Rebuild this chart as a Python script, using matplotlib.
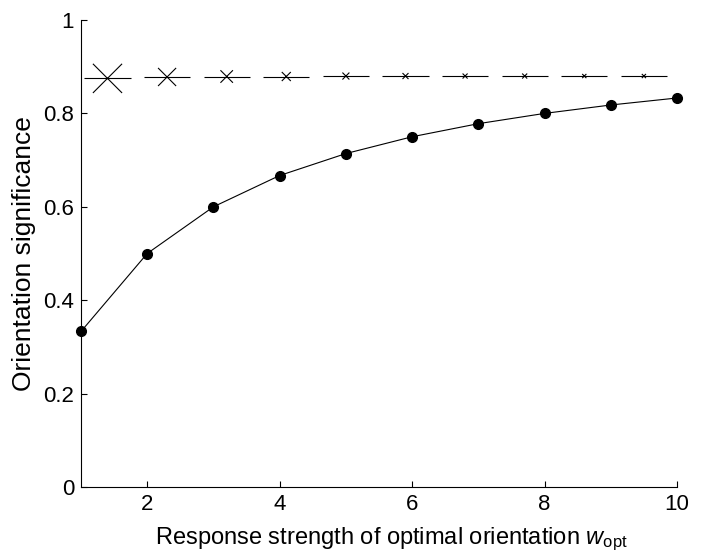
import numpy as np
import matplotlib
matplotlib.use('Agg')
import matplotlib.pyplot as plt

# Datos
w_opt = [1, 2, 3, 4, 5, 6, 7, 8, 9, 10]
significance = [0.333, 0.5, 0.6, 0.667, 0.714, 0.75, 0.778, 0.8, 0.818, 0.833]

cross_x = [1.4, 2.3, 3.2, 4.1, 5.0, 5.9, 6.8, 7.7, 8.6, 9.5]
cross_y = [0.875, 0.878, 0.879, 0.879, 0.88, 0.88, 0.88, 0.88, 0.88, 0.88]
cross_size = [21, 13, 9, 6.5, 5, 4.3, 3.6, 3.6, 3, 3]

x_ticks = [2, 4, 6, 8, 10]
y_ticks = [0, 0.2, 0.4, 0.6, 0.8, 1]
y_tick_labels = ['0', '0.2', '0.4', '0.6', '0.8', '1']

plt.rcParams['font.family'] = ['Liberation Sans', 'DejaVu Sans']
plt.rcParams['mathtext.fontset'] = 'custom'
plt.rcParams['mathtext.it'] = 'Liberation Sans:italic'
plt.rcParams['mathtext.rm'] = 'Liberation Sans'

fig = plt.figure(figsize=(7.01, 5.52), dpi=100)
ax = fig.add_axes([81 / 701, 1 - 487 / 552, 596 / 701, 467 / 552])

# Linea discontinua: un trazo centrado en cada cruz
half = 0.35
cx = np.array(cross_x)
ax.hlines(cross_y, cx - half, cx + half, color='black', linewidth=0.8)
ax.scatter(cross_x, cross_y, s=np.array(cross_size) ** 2, marker='x',
           color='black', linewidths=0.8, zorder=3)

# Curva con puntos
ax.plot(w_opt, significance, color='black', linewidth=0.8, marker='o',
        markersize=7, clip_on=False, zorder=4)

ax.set_xlim(1, 10)
ax.set_ylim(0, 1)
ax.set_xticks(x_ticks)
ax.set_yticks(y_ticks)
ax.set_yticklabels(y_tick_labels)
ax.tick_params(direction='in', length=4, width=0.8, labelsize=16, pad=5)
ax.spines['top'].set_visible(False)
ax.spines['right'].set_visible(False)
for s in ['left', 'bottom']:
    ax.spines[s].set_linewidth(0.8)

ax.set_xlabel(r'Response strength of optimal orientation $w_{\mathrm{opt}}$', fontsize=17)
ax.set_ylabel('Orientation significance', fontsize=19)
ax.xaxis.set_label_coords(0.52, -0.082)
ax.yaxis.set_label_coords(-0.075, 0.5)

plt.savefig('out.png', dpi=100)
